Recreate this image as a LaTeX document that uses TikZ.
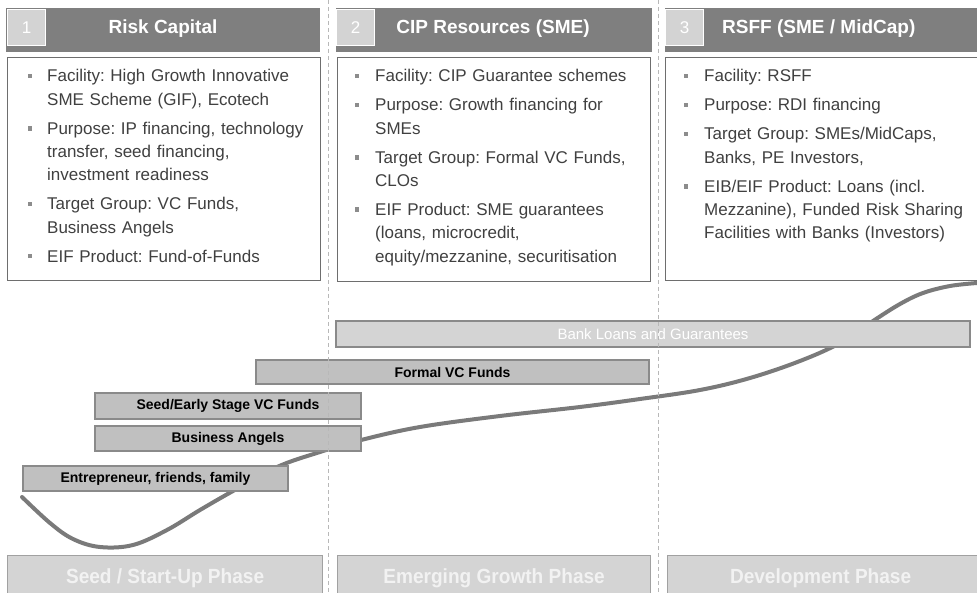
\documentclass[tikz,border=0pt]{standalone}
\usepackage{fontspec}
\setmainfont{Liberation Sans}
\newfontfamily\phasefont[FakeStretch=0.93]{Liberation Sans}
\definecolor{hdr}{HTML}{7F7F7F}
\definecolor{numsq}{HTML}{D3D3D3}
\definecolor{boxline}{HTML}{6E6E6E}
\definecolor{txt}{HTML}{404040}
\definecolor{bul}{HTML}{8C8C8C}
\definecolor{barfill}{HTML}{C0C0C0}
\definecolor{barline}{HTML}{8A8A8A}
\definecolor{lightbar}{HTML}{D4D4D4}
\definecolor{curvec}{HTML}{7A7A7A}
\definecolor{dashc}{HTML}{B8B8B8}
\definecolor{phasetxt}{HTML}{F2F2F2}
\frenchspacing
\begin{document}
\frenchspacing
\begin{tikzpicture}[x=1pt,y=-1pt,
  hdrbar/.style={fill=hdr, draw=none, anchor=north west, minimum height=44pt, inner sep=0},
  numbox/.style={fill=numsq, draw=white, line width=1.2pt, anchor=north west, minimum width=38pt, minimum height=36pt, inner sep=0, text=white, font=\fontsize{17}{19}\selectfont},
  hdrtitle/.style={text=white, inner sep=0, font=\fontsize{19}{22}\selectfont\bfseries},
  infobox/.style={draw=boxline, line width=1.4pt, fill=white, anchor=north west, inner sep=0},
  itemtxt/.style={anchor=base west, inner sep=0, text width=290pt, align=left, text=txt, font=\fontsize{17}{23.3}\selectfont\frenchspacing},
  bulletsq/.style={fill=bul, draw=none, minimum size=4.5pt, inner sep=0},
  fundbar/.style={fill=barfill, draw=barline, line width=1.2pt, inner sep=0, font=\fontsize{14}{16}\selectfont\bfseries, text=black},
  bankbar/.style={fill=lightbar, draw=barline, line width=1.2pt, inner sep=0, font=\fontsize{15}{17}\selectfont, text=white},
  phasebox/.style={fill=lightbar, draw=barline!80, line width=1.2pt, anchor=north west, inner sep=0, minimum height=46pt, text=phasetxt, font=\fontsize{20.5}{24}\selectfont\phasefont\bfseries},
  sep/.style={draw=dashc, line width=1pt, dash pattern=on 4pt off 3pt},
  growth/.style={draw=curvec, line width=4pt, line cap=round}
]
\useasboundingbox (0,0) rectangle (977,593);

% ---------- headers ----------
\node[hdrbar, minimum width=314pt] (h1) at (6,8) {};
\node[hdrbar, minimum width=316pt] (h2) at (336,8) {};
\node[hdrbar, minimum width=330pt] (h3) at (665,8) {};
\node[numbox] (n1) at (7,9) {1};
\node[numbox] (n2) at (336,9) {2};
\node[numbox] (n3) at (665,9) {3};
\node[hdrtitle] (t1) at (163,29) {Risk Capital};
\node[hdrtitle] (t2) at (493,29) {CIP Resources (SME)};
\node[hdrtitle, anchor=west] (t3) at (722,29) {RSFF (SME / MidCap)};

% ---------- info boxes ----------
\node[infobox, minimum width=313pt, minimum height=223pt] (box1) at (7,57) {};
\node[infobox, minimum width=313pt, minimum height=224pt] (box2) at (337,57) {};
\node[infobox, minimum width=330pt, minimum height=223pt] (box3) at (665,57) {};

% column 1
\node[bulletsq] (b1a) at (30,76) {};
\node[itemtxt] (i1a) at (47,82) {Facility: High Growth Innovative\\SME Scheme (GIF), Ecotech};
\node[bulletsq] (b1b) at (30,128.3) {};
\node[itemtxt] (i1b) at (47,134.3) {Purpose: IP financing, technology\\transfer, seed financing,\\investment readiness};
\node[bulletsq] (b1c) at (30,203.9) {};
\node[itemtxt] (i1c) at (47,209.9) {Target Group: VC Funds,\\Business Angels};
\node[bulletsq] (b1d) at (30,256.2) {};
\node[itemtxt] (i1d) at (47,262.2) {EIF Product: Fund-of-Funds};

% column 2
\node[bulletsq] (b2a) at (357,76) {};
\node[itemtxt] (i2a) at (375,82) {Facility: CIP Guarantee schemes};
\node[bulletsq] (b2b) at (357,105) {};
\node[itemtxt] (i2b) at (375,111) {Purpose: Growth financing for\\SMEs};
\node[bulletsq] (b2c) at (357,157.3) {};
\node[itemtxt] (i2c) at (375,163.3) {Target Group: Formal VC Funds,\\CLOs};
\node[bulletsq] (b2d) at (357,209.6) {};
\node[itemtxt] (i2d) at (375,215.6) {EIF Product: SME guarantees\\(loans, microcredit,\\equity/mezzanine, securitisation};

% column 3
\node[bulletsq] (b3a) at (686,76) {};
\node[itemtxt] (i3a) at (704,82) {Facility: RSFF};
\node[bulletsq] (b3b) at (686,105) {};
\node[itemtxt] (i3b) at (704,111) {Purpose: RDI financing};
\node[bulletsq] (b3c) at (686,134) {};
\node[itemtxt] (i3c) at (704,140) {Target Group: SMEs/MidCaps,\\Banks, PE Investors,};
\node[bulletsq] (b3d) at (686,186.3) {};
\node[itemtxt] (i3d) at (704,192.3) {EIB/EIF Product: Loans (incl.\\Mezzanine), Funded Risk Sharing\\Facilities with Banks (Investors)};

% ---------- growth curve ----------
\draw[growth] plot[smooth, tension=0.6] coordinates {
  (22,497) (50,523) (73,539) (100,547) (133,545) (167,530) (200,510)
  (233,491) (277,467) (320,452) (361,440) (420,427) (500,416)
  (580,407) (640,399) (700,390) (750,378) (800,361) (840,343)
  (873,321) (900,304) (923,293) (950,286) (977,283)};

% ---------- financing bars ----------
\node[bankbar, minimum width=634pt, minimum height=26pt] (bank) at (653,334) {Bank Loans and Guarantees};
\node[fundbar, minimum width=393pt, minimum height=24pt] (formal) at (452.5,372) {Formal VC Funds};
\node[fundbar, minimum width=266pt, minimum height=26pt] (seedvc) at (228,406) {Seed/Early Stage VC Funds};
\node[fundbar, minimum width=266pt, minimum height=25pt] (angels) at (228,438.5) {Business Angels};
\node[fundbar, minimum width=265pt, minimum height=25pt] (entre) at (155.5,478.5) {Entrepreneur, friends, family};

% ---------- phases ----------
\node[phasebox, minimum width=315pt] (p1) at (7,555) {Seed / Start-Up Phase};
\node[phasebox, minimum width=313pt] (p2) at (337,555) {Emerging Growth Phase};
\node[phasebox, minimum width=320pt] (p3) at (667,555) {\hspace*{-14pt}Development Phase};

% ---------- dashed separators ----------
\coordinate (s1t) at (328.5,0);
\coordinate (s1b) at (328.5,593);
\coordinate (s2t) at (658,0);
\coordinate (s2b) at (658,593);
\draw[sep] (s1t) -- (s1b);
\draw[sep] (s2t) -- (s2b);
\end{tikzpicture}
\end{document}
